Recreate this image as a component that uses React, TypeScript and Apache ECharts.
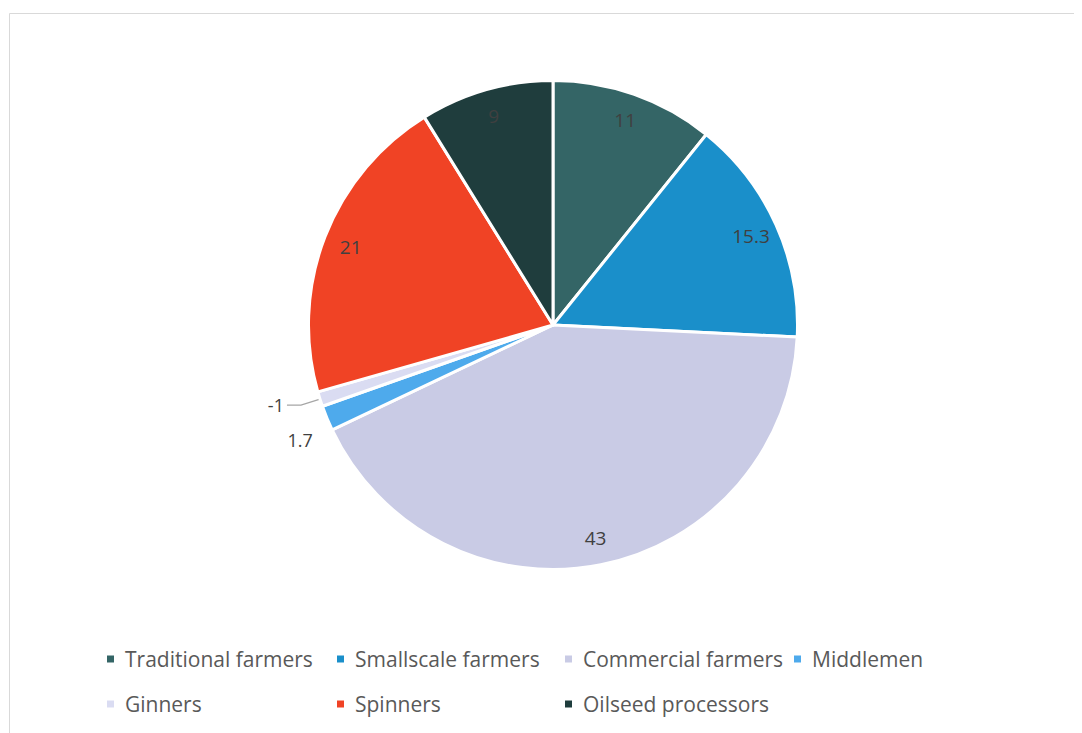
import React, { useEffect, useRef } from "react";
import * as echarts from "echarts";

const categories = [
  "Traditional farmers",
  "Smallscale farmers",
  "Commercial farmers",
  "Middlemen",
  "Ginners",
  "Spinners",
  "Oilseed processors",
];
const values = [11, 15.3, 43, 1.7, -1, 21, 9];
const colors = ["#346566", "#1a8fca", "#c9cbe5", "#4eaaec", "#dadcf2", "#f04325", "#1f3d3d"];
const outsideLabels = ["Middlemen", "Ginners"];

const legendColumns = [
  ["Traditional farmers", "Ginners"],
  ["Smallscale farmers", "Spinners"],
  ["Commercial farmers", "Oilseed processors"],
  ["Middlemen"],
];
const legendLeft = [97, 327, 555, 784];

export default function App() {
  const ref = useRef<HTMLDivElement>(null);
  useEffect(() => {
    const chart = echarts.init(ref.current!, null, { renderer: "svg" });
    const font = "'Open Sans', sans-serif";
    const labelColor = "#404040";
    const center = [545, 317];
    const mainData = categories.map((name, i) => {
      const item: any = {
        name,
        value: Math.abs(values[i]),
        raw: values[i],
        itemStyle: { color: colors[i] },
      };
      if (name === "Ginners") {
        item.label = { show: true, position: "outside", distanceToLabelLine: 3, color: labelColor, fontSize: 18, fontFamily: font };
        item.labelLine = { show: true, length: 20, length2: 14, lineStyle: { color: "#a6a6a6", width: 1.3 } };
      } else if (name === "Middlemen") {
        item.label = {
          show: true,
          position: "outside",
          distanceToLabelLine: 0,
          color: labelColor,
          formatter: (p: any) => "{d|" + p.data.raw + "}",
          rich: { d: { fontSize: 18, fontFamily: font, color: labelColor, padding: [36, 0, 0, 0] } },
        };
        item.labelLine = { show: false, length: 10, length2: 5 };
      } else {
        item.label = { show: false };
      }
      return item;
    });
    const overlayData = categories.map((name, i) => ({
      name,
      value: Math.abs(values[i]),
      raw: values[i],
      label: { show: !outsideLabels.includes(name) },
    }));
    chart.setOption({
      animation: false,
      backgroundColor: "#ffffff",
      graphic: [
        {
          type: "rect",
          shape: { x: 1.5, y: 5.5, width: 1200, height: 1000 },
          style: { fill: "none", stroke: "#d9d9d9", lineWidth: 1 },
          silent: true,
          z: -1,
        },
      ],
      legend: legendColumns.map((col, k) => ({
        data: col,
        orient: "vertical",
        left: legendLeft[k],
        top: 640,
        padding: 0,
        icon: "rect",
        itemWidth: 9,
        itemHeight: 9,
        itemGap: 23,
        selectedMode: false,
        textStyle: { color: "#595959", fontSize: 21, fontFamily: font, lineHeight: 22, padding: [0, 0, 0, 5] },
      })),
      series: [
        {
          type: "pie",
          center,
          radius: [0, 244.5],
          startAngle: 90,
          clockwise: true,
          avoidLabelOverlap: false,
          itemStyle: { borderColor: "#ffffff", borderWidth: 3 },
          label: {
            color: labelColor,
            fontSize: 18,
            fontFamily: font,
            formatter: (p: any) => String(p.data.raw),
          },
          emphasis: { disabled: true },
          data: mainData,
        },
        {
          type: "pie",
          center,
          radius: [185, 243],
          startAngle: 90,
          clockwise: true,
          silent: true,
          avoidLabelOverlap: false,
          itemStyle: { color: "rgba(0,0,0,0)", borderWidth: 0 },
          label: {
            show: true,
            position: "inside",
            color: labelColor,
            fontSize: 19,
            fontFamily: font,
            formatter: (p: any) => String(p.data.raw),
          },
          labelLine: { show: false },
          emphasis: { disabled: true },
          data: overlayData,
        },
      ],
    });
    return () => chart.dispose();
  }, []);
  return <div ref={ref} style={{ width: 1074, height: 725 }} />;
}
